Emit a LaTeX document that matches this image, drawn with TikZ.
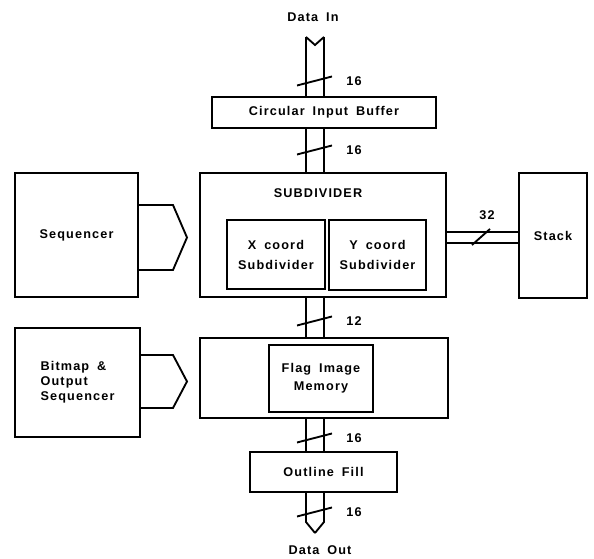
\documentclass[tikz,border=0pt]{standalone}
\usepackage{fontspec}
\setsansfont{Liberation Sans}[LetterSpace=9, WordSpace=1.7]
\usetikzlibrary{positioning,calc}

\begin{document}
\begin{tikzpicture}[
    x=0.75pt, y=-0.75pt,
    font=\sffamily\bfseries\fontsize{9.5}{11}\selectfont,
    box/.style={rectangle, draw, line width=1.5pt, inner sep=0pt, align=center},
    bus/.style={line width=1.4pt},
    slash/.style={line width=1.4pt},
    port/.style={line width=1.4pt, line join=miter}
]
    \useasboundingbox (0,0) rectangle (594,559);

    % Main column
    \node[box, minimum width=168pt, minimum height=23.25pt] (cib) at (324,112.5) {Circular Input Buffer};
    \node[box, minimum width=184.5pt, minimum height=93pt] (sub) at (323,235) {};
    \node (subtitle) at (318,193) {SUBDIVIDER};
    \node[box, line width=0.9pt, minimum width=73.5pt, minimum height=51.75pt, font=\sffamily\bfseries\fontsize{9.5}{15}\selectfont] (xsub) at (276,254.5) {X coord\\Subdivider};
    \node[box, line width=0.9pt, minimum width=72.75pt, minimum height=52.5pt, font=\sffamily\bfseries\fontsize{9.5}{15}\selectfont] (ysub) at (377.5,255) {Y coord\\Subdivider};
    \node[box, minimum width=186pt, minimum height=60pt] (fbox) at (324,378) {};
    \node[box, minimum width=78pt, minimum height=50.25pt, font=\sffamily\bfseries\fontsize{9.5}{13.5}\selectfont] (flag) at (321,378.5) {Flag Image\\Memory};
    \node[box, minimum width=110.25pt, minimum height=30pt] (fill) at (323.5,472) {Outline Fill};

    % Side blocks
    \node[box, minimum width=92.25pt, minimum height=93pt] (seq) at (76.5,235) {Sequencer};
    \node[box, minimum width=93.75pt, minimum height=81.75pt, align=left, font=\sffamily\bfseries\fontsize{9.5}{11.25}\selectfont] (bmp) at (77.5,382.5) {Bitmap \&\\Output\\Sequencer};
    \node[box, minimum width=51pt, minimum height=93.75pt] (stack) at (553,235.5) {Stack};

    % Bus edges
    \coordinate (busL) at (306,0);
    \coordinate (busR) at (324,0);
    \coordinate (din) at (315,37);
    \coordinate (dout) at (315,533);
    \coordinate (busT) at (0,232);
    \coordinate (busB) at (0,243);

    % Data in / out
    \draw[bus] (busL |- din) -- ($(din)+(0,8)$) -- (busR |- din);
    \foreach \s in {busL,busR} {
        \draw[bus] (\s |- din) -- (\s |- cib.north);
        \draw[bus] (\s |- cib.south) -- (\s |- sub.north);
        \draw[bus] (\s |- sub.south) -- (\s |- fbox.north);
        \draw[bus] (\s |- fbox.south) -- (\s |- fill.north);
        \draw[bus] (\s |- fill.south) -- (\s |- 0,522) -- (dout);
    }
    \node (datain) at (313,17) {Data In};
    \node (dataout) at (320,550) {Data Out};

    % Stack bus
    \draw[bus] (sub.east |- busT) -- (stack.west |- busT);
    \draw[bus] (sub.east |- busB) -- (stack.west |- busB);
    \draw[slash] (472,245) -- (490,229);
    \node (w32) at (487,215) {32};

    % Bus widths
    \foreach \y/\w in {81/16, 150/16, 321/12, 438/16, 512/16} {
        \draw[slash] (297,\y+4.5) -- (332,\y-4.5);
        \node (w\y) at (354,\y) {\w};
    }

    % Control ports
    \draw[port] ([shift={(0,-30)}]seq.east) -- ++(34,0) -- ++(14,32.5) -- ++(-14,32.5) -- ++(-34,0);
    \draw[port] ([shift={(0,-27.5)}]bmp.east) -- ++(32,0) -- ++(14,26.5) -- ++(-14,26.5) -- ++(-32,0);
\end{tikzpicture}
\end{document}
